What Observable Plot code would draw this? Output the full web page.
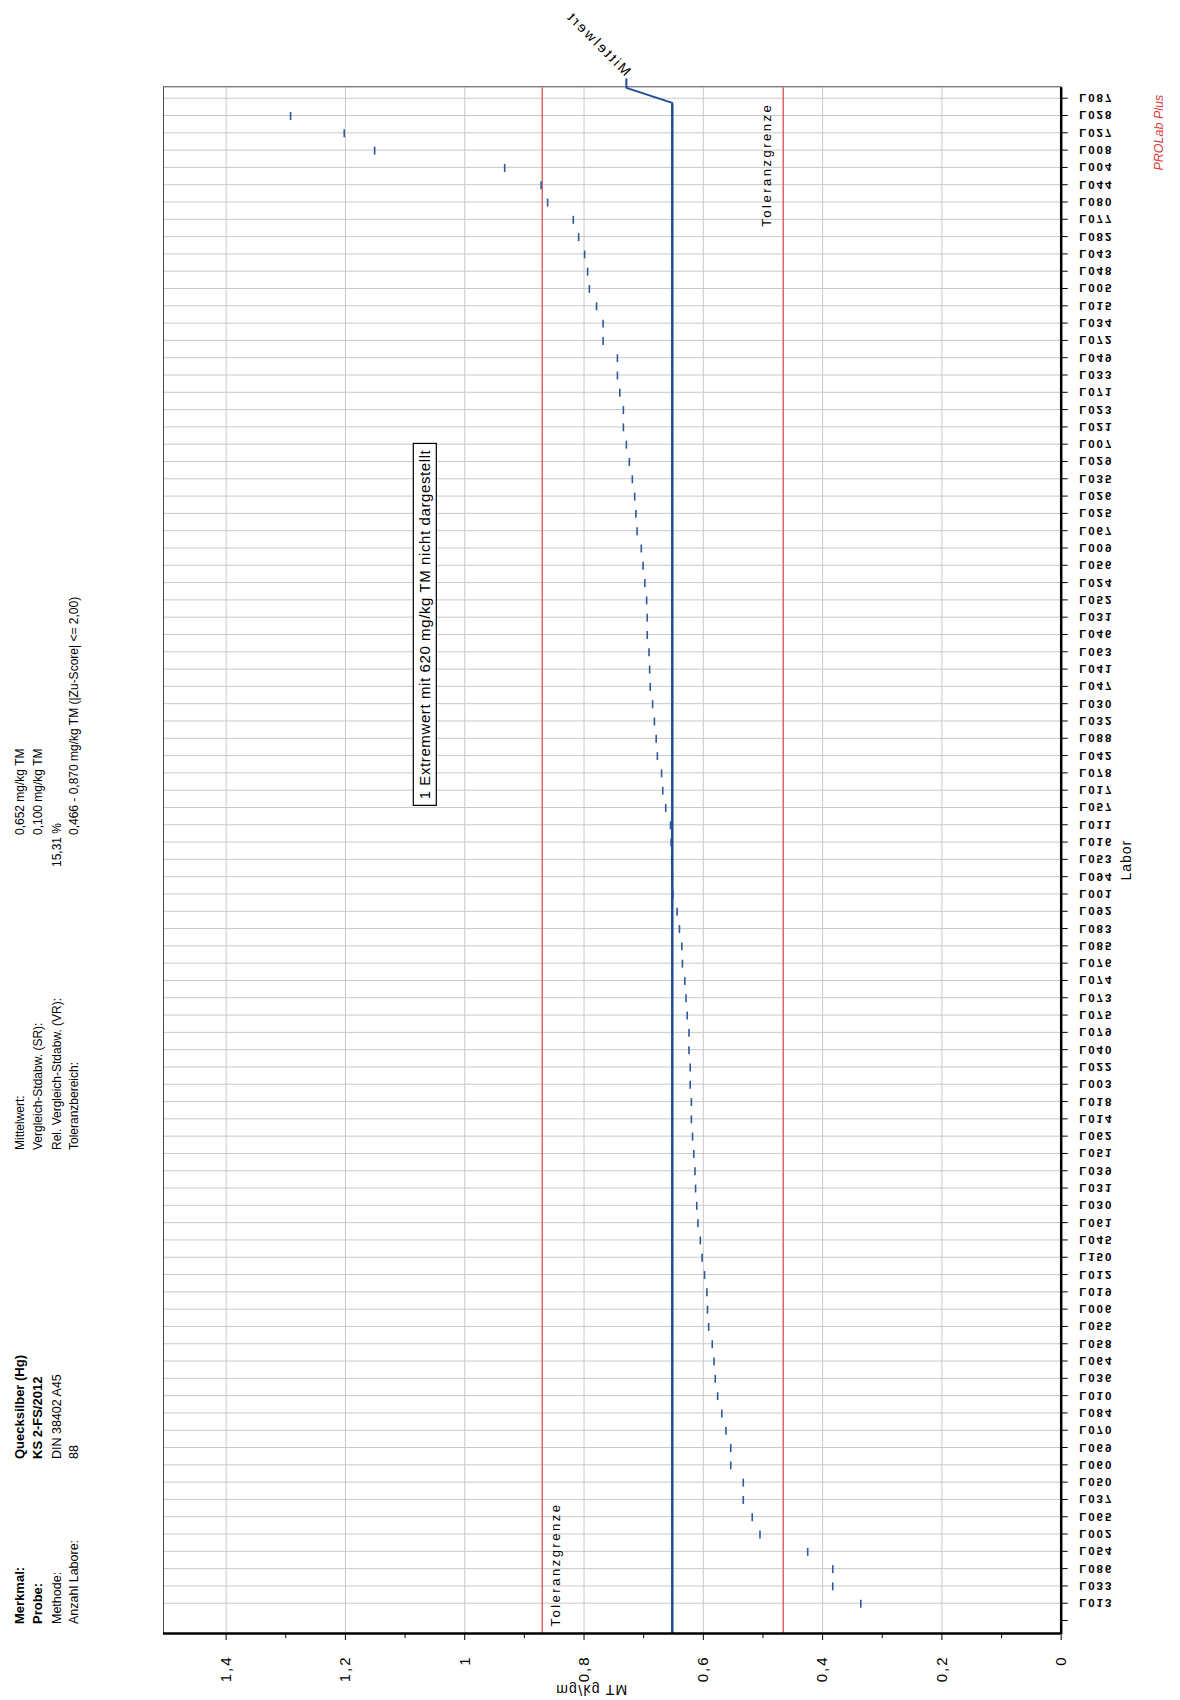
<!DOCTYPE html>
<html>
<head>
<meta charset="utf-8">
<script src="https://cdn.jsdelivr.net/npm/d3@7"></script>
<script src="https://cdn.jsdelivr.net/npm/@observablehq/plot@0.6"></script>
<style>
  html, body { margin: 0; padding: 0; width: 1180px; height: 1700px; overflow: hidden; background: #fff; }
  /* the report page is laid out in landscape and turned a quarter turn */
  #page { position: absolute; left: 0; top: 0; width: 1700px; height: 1180px;
          transform-origin: 0 0; transform: translate(0px, 1700px) rotate(-90deg);
          font-family: "Liberation Sans", Arial, sans-serif; background: #fff; }
  #page svg { position: absolute; left: 0; top: 0; }
</style>
</head>
<body>
<div id="page"></div>
<script>
// Laboratories, ordered by their reported mean (lowest first)
const labs = [
  "L013","L033","L086","L054","L002","L065","L037","L050","L060","L069",
  "L070","L084","L010","L036","L064","L058","L055","L006","L019","L012",
  "L150","L045","L061","L030","L031","L039","L051","L062","L014","L018",
  "L003","L022","L040","L079","L075","L073","L074","L076","L085","L083",
  "L092","L001","L094","L053","L016","L011","L057","L017","L078","L042",
  "L088","L032","L030","L047","L041","L063","L046","L031","L052","L024",
  "L056","L009","L067","L025","L026","L035","L029","L007","L021","L023",
  "L071","L033","L049","L072","L034","L015","L005","L048","L043","L082",
  "L077","L080","L044","L004","L008","L027","L028","L087"
];

// Lab means in mg/kg TM (same order)
const values = [
  0.336, 0.383, 0.383, 0.425, 0.505, 0.518, 0.533, 0.533, 0.554, 0.554,
  0.562, 0.569, 0.576, 0.580, 0.582, 0.585, 0.591, 0.593, 0.594, 0.598,
  0.602, 0.605, 0.609, 0.611, 0.613, 0.614, 0.616, 0.618, 0.620, 0.620,
  0.622, 0.622, 0.624, 0.624, 0.627, 0.629, 0.631, 0.635, 0.636, 0.640,
  0.644, 0.651, 0.652, 0.653, 0.654, 0.655, 0.663, 0.668, 0.670, 0.677,
  0.679, 0.682, 0.685, 0.689, 0.690, 0.691, 0.694, 0.694, 0.695, 0.698,
  0.701, 0.704, 0.711, 0.713, 0.715, 0.719, 0.724, 0.729, 0.734, 0.734,
  0.740, 0.744, 0.744, 0.768, 0.768, 0.779, 0.791, 0.794, 0.799, 0.809,
  0.818, 0.861, 0.872, 0.933, 1.151, 1.202, 1.292, 620
];

// Summary statistics of the round
const mean = 0.652;
const sr = 0.100;
const vr = 15.31;
const tolLow = 0.466;
const tolHigh = 0.870;
const zuLimit = 2.00;

// Value axis ticks
const valueTicks = [0, 0.2, 0.4, 0.6, 0.8, 1, 1.2, 1.4];
const minorTicks = [0.1, 0.3, 0.5, 0.7, 0.9, 1.1, 1.3];

// Header lines
const headerLeft = [
  ["Merkmal:", "Quecksilber (Hg)", true],
  ["Probe:", "KS 2-FS/2012", true],
  ["Methode:", "DIN 38402 A45", false],
  ["Anzahl Labore:", String(labs.length), false]
];

const de = (v, d) => v.toFixed(d).replace(".", ",");
const tickFmt = v => String(+v.toFixed(1)).replace(".", ",");

const blue = "#1e4d96";
const dashBlue = "#2a5899";
const red = "#dd6464";
const grid = "#c9c9c9";

const xMin = -0.75, xMax = labs.length + 0.66;
const yMax = 1.505;
const rows = labs.map((lab, k) => ({i: k + 1, lab, v: values[k]}));
const shown = rows.filter(d => d.v <= yMax);
const hidden = rows.filter(d => d.v > yMax);
const slotTicks = d3.range(0, labs.length + 1);
const last = labs.length;

const noteText = `${hidden.length} Extremwert mit ${hidden.map(d => String(d.v).replace(".", ",")).join(", ")} mg/kg TM nicht dargestellt`;
const meanText = "Mittelwert";
const unitText = "mg/kg TM";
const tolText = "Toleranzgrenze";

const chart = Plot.plot({
  width: 1700,
  height: 1180,
  marginLeft: 66,
  marginRight: 87.3,
  marginTop: 163,
  marginBottom: 119.3,
  style: {fontFamily: '"Liberation Sans", Arial, sans-serif', fontSize: "12px", color: "#000", background: "transparent", overflow: "visible"},
  x: {type: "linear", domain: [xMin, xMax]},
  y: {type: "linear", domain: [0, yMax]},
  marks: [
    Plot.ruleX(rows.map(d => d.i), {stroke: grid, strokeWidth: 1}),
    Plot.ruleY(valueTicks.filter(v => v > 0), {stroke: grid, strokeWidth: 1}),
    Plot.frame({stroke: "#4a4a4a", strokeWidth: 1}),
    Plot.ruleY([tolLow, tolHigh], {stroke: red, strokeWidth: 1.5}),
    Plot.ruleY(shown, {y: "v", x1: d => d.i - 0.23, x2: d => d.i + 0.23, stroke: dashBlue, strokeWidth: 1.6}),
    Plot.ruleY([mean], {x1: xMin, x2: last - 0.27, stroke: blue, strokeWidth: 2.5}),
    Plot.line([[last - 0.27, mean], [last + 0.6, mean + 0.077], [last + 1.1, mean + 0.077]],
      {stroke: blue, strokeWidth: 2, clip: false}),
    Plot.ruleY([0], {stroke: "#000", strokeWidth: 2.5}),
    Plot.ruleX([xMin], {stroke: "#000", strokeWidth: 2.5}),
    Plot.axisX({ticks: slotTicks, tickFormat: i => labs[i - 1] ?? "", tickSize: 7, tickPadding: 11, label: null}),
    Plot.axisY({ticks: valueTicks, tickFormat: tickFmt, tickSize: 6, tickPadding: 16, label: null}),
    Plot.axisY({ticks: minorTicks, tickFormat: () => "", tickSize: 4, label: null}),
    Plot.text([tolText], {y: () => tolHigh, frameAnchor: "left", textAnchor: "start", lineAnchor: "top", dx: 7, dy: 9, fontSize: 13}),
    Plot.text([tolText], {y: () => tolLow, frameAnchor: "right", textAnchor: "end", lineAnchor: "bottom", dx: -16, dy: -12, fontSize: 13}),
    Plot.text(["Labor"], {frameAnchor: "bottom", dy: 70, fontSize: 14}),
    Plot.text(["PROLab Plus"], {frameAnchor: "bottom-right", textAnchor: "end", dx: -8, dy: 102, fill: "#e03a3a", fontStyle: "italic", fontSize: 12.5}),
    Plot.text([unitText], {frameAnchor: "left", dx: -56, dy: -20, fontSize: 14}),
    Plot.text([meanText], {x: () => last + 1.1, y: () => mean + 0.077, dx: 6, dy: 2, textAnchor: "start", fontSize: 14}),
    Plot.text([noteText], {frameAnchor: "top-left", dx: 1009, dy: 262, textAnchor: "middle", lineAnchor: "middle", fontSize: 15})
  ]
});

const page = document.getElementById("page");
page.appendChild(chart);
const svg = d3.select(chart);
const textsOf = s => svg.selectAll("text").filter(function () { return this.textContent === s; });

// Re-seat a text element in its own frame (mirrored / slanted lettering)
function reseat(sel, matrix, anchor, yAttr) {
  sel.each(function () {
    const t = d3.select(this);
    const m = /translate\(\s*([-\d.eE]+)[ ,]+([-\d.eE]+)\s*\)/.exec(t.attr("transform") || "");
    const X = m ? +m[1] : +(t.attr("x") || 0);
    const Y = m ? +m[2] : 0;
    t.attr("transform", `translate(${X},${Y}) matrix(${matrix})`)
      .attr("text-anchor", anchor).attr("x", null).attr("y", yAttr).attr("dy", null);
  });
}

const labGroup = svg.selectAll('g[aria-label="x-axis tick label"]')
  .attr("font-size", 11.5).attr("font-weight", "bold").attr("letter-spacing", "2px").attr("fill", "#000");
reseat(labGroup.selectAll("text"), "0,1,1,0,0,0", "start", "0.35em");
reseat(textsOf(unitText).attr("letter-spacing", "1.3px"), "0,1,1,0,0,0", "middle", "0.35em");
reseat(textsOf(meanText).attr("letter-spacing", "2.5px"), "0.7071,-0.7071,-0.7071,-0.7071,0,0", "start", "0.35em");
textsOf(tolText).attr("letter-spacing", "2.5px");
textsOf("Labor").attr("letter-spacing", "1px");

svg.selectAll('g[aria-label="x-axis tick"], g[aria-label="y-axis tick"]').attr("stroke", "#000");
svg.selectAll('g[aria-label="y-axis tick label"]').attr("font-size", 15).attr("letter-spacing", "2px");

// box round the note on values outside the axis range
textsOf(noteText).attr("letter-spacing", "0.6px").each(function () {
  const bb = this.getBBox();
  d3.select(this.parentNode).insert("rect", () => this)
    .attr("transform", d3.select(this).attr("transform"))
    .attr("x", bb.x - 6).attr("y", bb.y - 3)
    .attr("width", bb.width + 12).attr("height", bb.height + 6)
    .attr("fill", "#fff").attr("stroke", "#000").attr("stroke-width", 1.2);
});

// report header
const hdr = svg.append("g").attr("font-size", 12).attr("fill", "#000").attr("text-anchor", "start");
const rowsY = [24, 42.3, 60.7, 78];
headerLeft.forEach(([label, value, bold], k) => {
  const fs = bold ? 13 : 12.5;
  hdr.append("text").attr("x", 76).attr("y", rowsY[k]).attr("font-size", fs).attr("font-weight", bold ? "bold" : null).text(label);
  hdr.append("text").attr("x", 241).attr("y", rowsY[k]).attr("font-size", fs).attr("font-weight", bold ? "bold" : null).text(value);
});
const headerRight = [
  ["Mittelwert:", `${de(mean, 3)} mg/kg TM`, 865],
  ["Vergleich-Stdabw. (SR):", `${de(sr, 3)} mg/kg TM`, 865],
  ["Rel. Vergleich-Stdabw. (VR):", `${de(vr, 2)} %`, 833],
  ["Toleranzbereich:", `${de(tolLow, 3)} - ${de(tolHigh, 3)} mg/kg TM (|Zu-Score| <= ${de(zuLimit, 2)})`, 865]
];
headerRight.forEach(([label, value, vx], k) => {
  hdr.append("text").attr("x", 550).attr("y", rowsY[k]).text(label);
  hdr.append("text").attr("x", vx).attr("y", rowsY[k]).text(value);
});
</script>
</body>
</html>
